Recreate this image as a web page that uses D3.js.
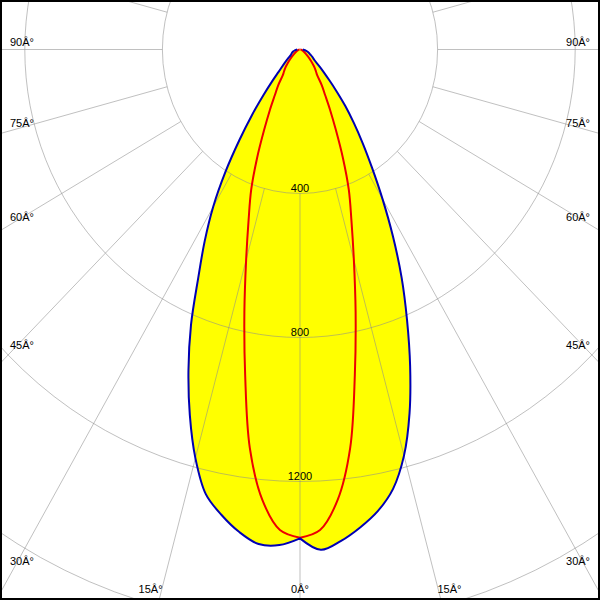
<!DOCTYPE html>
<html><head><meta charset="utf-8">
<script src="https://cdn.jsdelivr.net/npm/d3@7"></script>
<style>body{margin:0;background:#fff}svg{display:block}</style>
</head><body>
<svg id="c" width="600" height="600"></svg>
<script>
// gamma angles (degrees from nadir)
const angles = [0,2.5,5,7.5,10,12.5,15,17.5,20,22.5,25,27.5,30,32.5,35,37.5,40,42.5,45,50,55,60,65,70,75,80,85,90];
// C180 plane (left half of blue curve), cd
const c180 = [1358,1378,1379,1352,1313,1265,1175,1065,948,828,700,600,505,404,307,229,165,120,88,58,41,31,27,24,20,16,12,8];
// C0 plane (right half of blue curve), cd
const c0 = [1358,1391,1370,1339,1302,1250,1168,1059,936,813,699,585,480,390,318,257,205,157,120,76,51,42,33,27,22,17,12,8];
// C90 / C270 plane (red curve, symmetric), cd
const c90 = [1356,1336,1256,1117,918,747,605,497,415,326,247,190,146,118,87,76,66,55,46,30,20,14,10,7,5,3,2,1];
const c270 = c90;
const ringValues = [400,800,1200,1600,2000];
const ringLabels = ["400","800","1200"];
const spokeAngles = d3.range(-180,181,15);
const sideLabelAngles = [90,75,60,45,30];
const bottomLabelAngles = [-15,0,15];

const W = 600, H = 600, cx = 300, cy = 49.5;
const rx = d3.scaleLinear().domain([0,1600]).range([0,550.4]);
const ry = d3.scaleLinear().domain([0,1600]).range([0,576]);
const rad = d => d*Math.PI/180;
const pt = (a, I, side) => [cx + side*rx(I)*Math.sin(rad(a)), cy + ry(I)*Math.cos(rad(a))];

const svg = d3.select("#c");
svg.append("rect").attr("width",W).attr("height",H).attr("fill","#fff");

const line = d3.line().curve(d3.curveCatmullRom.alpha(0.5));
function halfPaths(left, right){
  const lp = angles.map((a,i)=>pt(a,left[i],-1)).reverse();
  const rp = angles.map((a,i)=>pt(a,right[i],1));
  return line(lp) + line(rp).replace(/^M/,"L");
}
const bluePath = halfPaths(c180, c0);
const redPath = halfPaths(c270, c90);

// fill
svg.append("path").attr("d", bluePath + "Z").attr("fill","#ffff00").attr("stroke","none");

// grid
const grid = svg.append("g").attr("fill","none").attr("stroke","#8c8c8c").attr("stroke-opacity",0.55).attr("stroke-width",1);
grid.selectAll("ellipse").data(ringValues).join("ellipse")
  .attr("cx",cx).attr("cy",cy).attr("rx",d=>rx(d)).attr("ry",d=>ry(d));
grid.selectAll("line").data(spokeAngles).join("line")
  .attr("x1",a=>pt(a,400,1)[0]).attr("y1",a=>pt(a,400,1)[1])
  .attr("x2",a=>pt(a,4000,1)[0]).attr("y2",a=>pt(a,4000,1)[1]);

// ring labels
const txt = svg.append("g").attr("font-family","'Liberation Sans', Arial, sans-serif").attr("font-size",11).attr("fill","#000");
txt.selectAll("text.ring").data(ringLabels).join("text").attr("class","ring")
  .attr("x",cx).attr("y",d=>cy+ry(+d)-1.5).attr("text-anchor","middle").text(d=>d);

// side angle labels
sideLabelAngles.forEach(a=>{
  const I = rx.invert(290/Math.sin(rad(a)));
  const y = Math.min(cy + ry(I)*Math.cos(rad(a)) - 4, 565);
  txt.append("text").attr("x",10).attr("y",y).attr("text-anchor","start").text(a+"Â°");
  txt.append("text").attr("x",590).attr("y",y).attr("text-anchor","end").text(a+"Â°");
});
// bottom labels
bottomLabelAngles.forEach(a=>{
  const I = ry.invert(540.5/Math.cos(rad(a)));
  const x = cx + rx(I)*Math.sin(rad(a)) + (a<0?-11:a>0?11:0) ;
  txt.append("text").attr("x",x).attr("y",593).attr("text-anchor","middle").text(Math.abs(a)+"Â°");
});

// curves
svg.append("path").attr("d",redPath).attr("fill","none").attr("stroke","#ee0000").attr("stroke-width",2).attr("stroke-linejoin","round");
svg.append("path").attr("d",bluePath).attr("fill","none").attr("stroke","#0000b4").attr("stroke-width",2).attr("stroke-linejoin","round");

// border
svg.append("rect").attr("x",1).attr("y",1).attr("width",W-2).attr("height",H-2).attr("fill","none").attr("stroke","#000").attr("stroke-width",2);
</script>
</body></html>
